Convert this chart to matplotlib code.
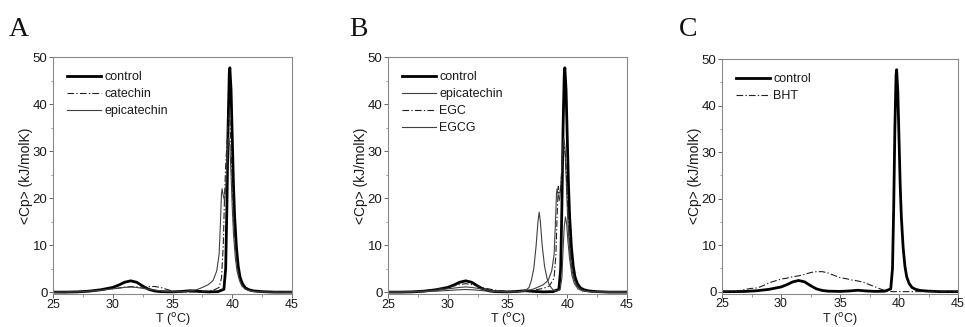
import matplotlib
matplotlib.use("Agg")
import matplotlib.pyplot as plt
from matplotlib.ticker import MultipleLocator

plt.rcParams['font.family'] = ['Liberation Sans', 'DejaVu Sans']

# ---- data ----
control_T = [25, 26, 27, 28, 29, 30, 30.5, 31, 31.5, 32, 32.5, 33, 33.5, 34, 35, 35.8, 36.5, 37.2, 38, 38.8,
             39.3, 39.45, 39.55, 39.65, 39.75, 39.8, 39.9, 40.0, 40.1, 40.2, 40.35, 40.5, 40.65, 40.85, 41.1,
             41.4, 41.8, 42.5, 43.5, 45]
control_Cp = [0, 0, 0.05, 0.2, 0.5, 1.0, 1.5, 2.1, 2.4, 2.1, 1.3, 0.6, 0.25, 0.1, 0.05, 0.15, 0.3, 0.15, 0.05, 0.1,
              0.6, 5, 18, 35, 46.5, 47.7, 43, 33, 23, 16, 9.5, 5.5, 3.2, 1.8, 0.9,
              0.5, 0.25, 0.1, 0, 0]

epicatechin_T = [25, 27, 28, 29, 30, 31, 31.5, 32, 33, 34, 35, 36, 37, 37.5, 38, 38.4, 38.7, 38.9, 39.0, 39.1,
                 39.15, 39.25, 39.35, 39.45, 39.55, 39.65, 39.72, 39.8, 39.9, 40.0, 40.1, 40.25, 40.4, 40.6,
                 40.8, 41.1, 41.5, 42, 43, 45]
epicatechin_Cp = [0, 0.05, 0.2, 0.4, 0.7, 1.0, 1.1, 1.0, 0.6, 0.25, 0.05, 0.1, 0.5, 1.0, 1.6, 2.5, 4.5, 8, 14, 21,
                  22, 20.5, 19.5, 22, 27, 31.5, 32.8, 31, 25, 18, 12.5, 7.5, 4.5, 2.5,
                  1.3, 0.6, 0.25, 0.1, 0, 0]

catechin_T = [25, 27, 28, 29, 30, 31, 31.5, 32, 32.5, 33, 33.5, 34, 34.5, 35, 35.5, 36, 37, 38, 38.5, 38.9,
              39.1, 39.25, 39.35, 39.45, 39.55, 39.65, 39.75, 39.8, 39.9, 40.0, 40.1, 40.25, 40.4, 40.6, 40.8,
              41.1, 41.5, 42, 43, 45]
catechin_Cp = [0, 0.05, 0.2, 0.4, 0.7, 1.05, 1.15, 1.1, 1.05, 1.15, 1.2, 1.0, 0.6, 0.2, 0.05, 0, 0.05, 0.2, 0.5, 1.0,
               3, 10, 20, 27, 31, 36, 38, 37, 31, 23, 16, 10, 6, 3, 1.6,
               0.7, 0.3, 0.1, 0, 0]

EGC_T = [25, 27, 28, 29, 30, 31, 31.5, 32, 33, 34, 35, 36, 37, 38, 38.5, 38.9, 39.05, 39.15, 39.25, 39.35,
         39.45, 39.55, 39.65, 39.75, 39.85, 39.95, 40.05, 40.2, 40.35, 40.5, 40.7, 41.0, 41.4, 42, 43, 45]
EGC_Cp = [0, 0.05, 0.25, 0.6, 1.0, 1.6, 1.8, 1.6, 0.9, 0.4, 0.15, 0.1, 0.3, 0.8, 1.3, 3, 8, 16, 22.5, 21,
          22, 26, 30, 31, 29, 24, 18, 11, 6.5, 4, 2, 0.9, 0.4, 0.1, 0, 0]

EGCG_T = [25, 28, 29, 30, 31, 31.5, 32, 33, 34, 35, 36, 36.5, 36.8, 37.0, 37.2, 37.4, 37.55, 37.65, 37.75, 37.9,
          38.1, 38.3, 38.5, 38.8, 39.1, 39.4, 39.55, 39.65, 39.75, 39.85, 39.95, 40.05, 40.2, 40.4, 40.6,
          40.9, 41.3, 42, 45]
EGCG_Cp = [0, 0.1, 0.2, 0.35, 0.5, 0.55, 0.5, 0.3, 0.1, 0.05, 0.1, 0.3, 1.0, 2.5, 5, 10, 15, 17, 15, 10,
           5.5, 3, 1.5, 0.5, 0.2, 0.5, 3, 9, 14, 16, 14.5, 11, 7, 3.5, 1.8,
           0.7, 0.2, 0.05, 0]

BHT_T = [25, 26, 26.5, 27, 27.5, 28, 28.5, 29, 29.5, 30, 30.5, 31, 31.5, 32, 32.5, 33, 33.5, 34, 34.5, 35,
         35.5, 36, 36.5, 37, 37.5, 38, 38.5, 39, 39.5, 45]
BHT_Cp = [0, 0, 0.2, 0.5, 0.7, 0.8, 1.3, 1.9, 2.3, 2.7, 2.9, 3.2, 3.4, 3.7, 4.1, 4.3, 4.3, 4.0, 3.5, 3.0,
          2.8, 2.5, 2.3, 2.0, 1.5, 1.0, 0.5, 0.1, 0, 0]

panel_letters = ['A', 'B', 'C']
x_ticks = [25, 30, 35, 40, 45]
y_ticks = [0, 10, 20, 30, 40, 50]

# ---- styles ----
DASHDOT = (0, (6, 2, 1.2, 2))
thick = dict(color='black', lw=2.0, ls='-')
thin = dict(color='#404040', lw=0.8, ls='-')
dd = dict(color='#202020', lw=0.8, ls=DASHDOT)

fig = plt.figure(figsize=(9.65, 3.27), dpi=100)
W, H = 965.0, 327.0
boxes = [(53, 57, 292, 294), (388, 57, 627, 294), (722, 59, 958, 293.5)]
axes = []
for (l, t, r, b) in boxes:
    ax = fig.add_axes([l / W, 1 - b / H, (r - l) / W, (b - t) / H])
    axes.append(ax)

axA, axB, axC = axes
axA.plot(control_T, control_Cp, label='control', **thick)
axA.plot(catechin_T, catechin_Cp, label='catechin', **dd)
axA.plot(epicatechin_T, epicatechin_Cp, label='epicatechin', **thin)

axB.plot(control_T, control_Cp, label='control', **thick)
axB.plot(epicatechin_T, epicatechin_Cp, label='epicatechin', **thin)
axB.plot(EGC_T, EGC_Cp, label='EGC', **dd)
axB.plot(EGCG_T, EGCG_Cp, label='EGCG', **thin)

axC.plot(control_T, control_Cp, label='control', **thick)
axC.plot(BHT_T, BHT_Cp, label='BHT', **dd)

letter_x = [9, 349, 679]
for ax, letter, lx in zip(axes, panel_letters, letter_x):
    ax.set_xlim(25, 45)
    ax.set_ylim(-0.4, 50)
    ax.set_xticks(x_ticks)
    ax.set_yticks(y_ticks)
    ax.xaxis.set_minor_locator(MultipleLocator(2.5))
    ax.yaxis.set_minor_locator(MultipleLocator(5))
    for s in ax.spines.values():
        s.set_color('#8a8a8a')
        s.set_linewidth(0.8)
    ax.tick_params(which='major', direction='out', length=3, width=0.7, color='#666666',
                   labelsize=9.5, labelcolor='#1a1a1a', pad=1.0)
    ax.tick_params(axis='x', which='major', labelsize=9, pad=0.5)
    ax.tick_params(which='minor', direction='out', length=1.8, width=0.6, color='#888888')
    ax.set_xlabel('T ($^{\\mathrm{o}}$C)', fontsize=9, color='#1a1a1a', labelpad=0.3)
    ax.set_ylabel('<Cp> (kJ/molK)', fontsize=10, color='#1a1a1a', labelpad=0)
    leg = ax.legend(loc='upper left', bbox_to_anchor=(0.06, 0.94), frameon=False, fontsize=9,
                    handlelength=2.7, handletextpad=0.25, labelspacing=0.4, borderaxespad=0,
                    borderpad=0)
    for txt in leg.get_texts():
        txt.set_color('#1a1a1a')
    fig.text(lx / W, 1 - 36 / H, letter, fontsize=20, family='Liberation Serif', color='#111111',
             ha='left', va='baseline')

fig.savefig('out.png', dpi=100)
